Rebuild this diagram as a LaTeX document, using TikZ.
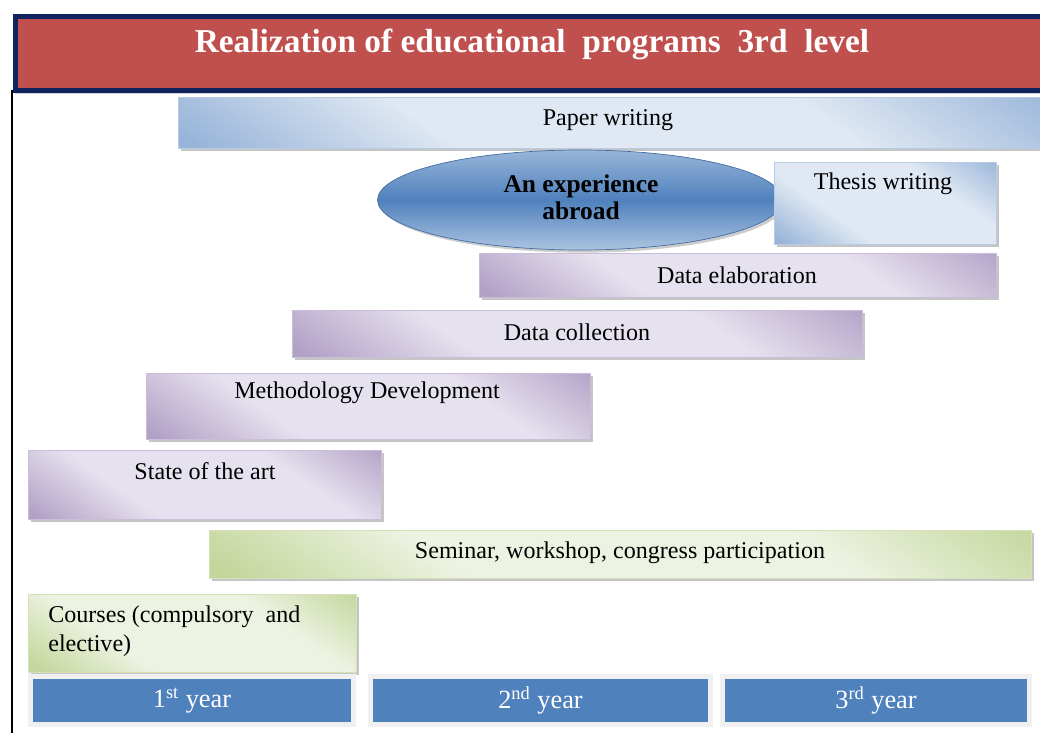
\documentclass[tikz,border=0pt]{standalone}
\usepackage{fontspec}
\setmainfont{Liberation Serif}
\usetikzlibrary{shapes.geometric,shadows}

\definecolor{titlered}{HTML}{C0504D}
\definecolor{navy}{HTML}{10245F}
\definecolor{yearblue}{HTML}{4F81BD}
\definecolor{blueL}{HTML}{DFE8F3}
\definecolor{blueD}{HTML}{98B5D9}
\definecolor{purpleL}{HTML}{E6E1EE}
\definecolor{purpleD}{HTML}{B2A1C7}
\definecolor{greenL}{HTML}{EDF3E2}
\definecolor{greenD}{HTML}{C3D69B}

\pgfdeclareverticalshading{blueshade}{100bp}{color(0bp)=(blueD); color(17bp)=(blueD); color(36bp)=(blueL);
  color(66bp)=(blueL); color(86bp)=(blueD); color(100bp)=(blueD)}
\pgfdeclareverticalshading{purpleshade}{100bp}{color(0bp)=(purpleD); color(17bp)=(purpleD); color(36bp)=(purpleL);
  color(66bp)=(purpleL); color(86bp)=(purpleD); color(100bp)=(purpleD)}
\pgfdeclareverticalshading{greenshade}{100bp}{color(0bp)=(greenD); color(17bp)=(greenD); color(36bp)=(greenL);
  color(66bp)=(greenL); color(86bp)=(greenD); color(100bp)=(greenD)}

\begin{document}
\begin{tikzpicture}
[x=0.02cm,y=-0.02cm,every node/.style={font=\fontsize{13.7}{16}\selectfont},
 bar/.style={rectangle,anchor=north west,inner sep=0pt,shading angle=-35,
   drop shadow={shadow xshift=1.5pt,shadow yshift=-1.5pt,opacity=.45}},
 bluebar/.style={bar,draw=blueD!70,shading=blueshade},
 purplebar/.style={bar,draw=purpleD!70,shading=purpleshade},
 greenbar/.style={bar,draw=greenD!70,shading=greenshade},
 yearbox/.style={rectangle,fill=yearblue,draw=black!6,line width=3pt,minimum height=0.97cm,
   text=white,font=\fontsize{15}{18}\selectfont,
   drop shadow={shadow xshift=1.5pt,shadow yshift=-1.5pt,opacity=.4}},
 txt/.style={inner sep=0pt}]
   \path[use as bounding box,clip] (0,0) rectangle (1040,733);
   \fill[white] (0,0) rectangle (1040,733);

   % title
   \node[rectangle,anchor=north west,fill=titlered,draw=navy,line width=2.6pt,
     minimum width=21cm,minimum height=1.48cm,
     drop shadow={shadow xshift=0pt,shadow yshift=-2pt,opacity=.35}] (title) at (13,14) {};
   \node[txt,text=white,font=\fontsize{19}{22}\bfseries] (titleTxt) at (532,44)
     {Realization of educational\ \ programs\ \ 3rd\ \ level};
   \draw[line width=1.7pt] (12,90) -- (12,733);

   % activities
   \node[bluebar,minimum width=17.4cm,minimum height=1.02cm] (paper) at (178,97) {};
   \node[txt] (paperTxt) at (608,120) {Paper writing};

   \node[ellipse,draw=yearblue!85!black,top color=blueD,bottom color=blueD!80,middle color=yearblue,
     minimum width=8.1cm,minimum height=2cm,
     drop shadow={shadow xshift=1.5pt,shadow yshift=-1.5pt,opacity=.4}] (abroad) at (580,200) {};
   \node[txt,align=center,font=\fontsize{14.5}{15.4}\bfseries] (abroadTxt) at (581,197) {An experience\\abroad};

   \node[bluebar,minimum width=4.44cm,minimum height=1.64cm] (thesis) at (774,162) {};
   \node[txt] (thesisTxt) at (883,184) {Thesis writing};

   \node[purplebar,minimum width=10.34cm,minimum height=0.88cm] (elab) at (479,253) {};
   \node[txt] (elabTxt) at (737,275) {Data elaboration};

   \node[purplebar,minimum width=11.4cm,minimum height=0.94cm] (coll) at (292,310) {};
   \node[txt] (collTxt) at (577,332) {Data collection};

   \node[purplebar,minimum width=8.88cm,minimum height=1.32cm] (method) at (146,373) {};
   \node[txt] (methodTxt) at (367,393) {Methodology Development};

   \node[purplebar,minimum width=7.06cm,minimum height=1.38cm] (state) at (28,450) {};
   \node[txt] (stateTxt) at (205,471) {State of the art};

   \node[greenbar,minimum width=16.44cm,minimum height=0.96cm] (seminar) at (209,530) {};
   \node[txt] (seminarTxt) at (620,553) {Seminar, workshop, congress participation};

   \node[greenbar,minimum width=6.56cm,minimum height=1.56cm] (courses) at (28,594) {};
   \node[txt,anchor=west,align=left,font=\fontsize{13.7}{16.4}\selectfont] (coursesTxt) at (48,631)
     {Courses (compulsory\ \ and\\elective)};

   % years
   \node[yearbox,minimum width=6.47cm] (y1) at (192,700.5) {1\textsuperscript{st} year};
   \node[yearbox,minimum width=6.81cm] (y2) at (540.5,700.5) {2\textsuperscript{nd} year};
   \node[yearbox,minimum width=6.15cm] (y3) at (876,700.5) {3\textsuperscript{rd} year};
\end{tikzpicture}
\end{document}
